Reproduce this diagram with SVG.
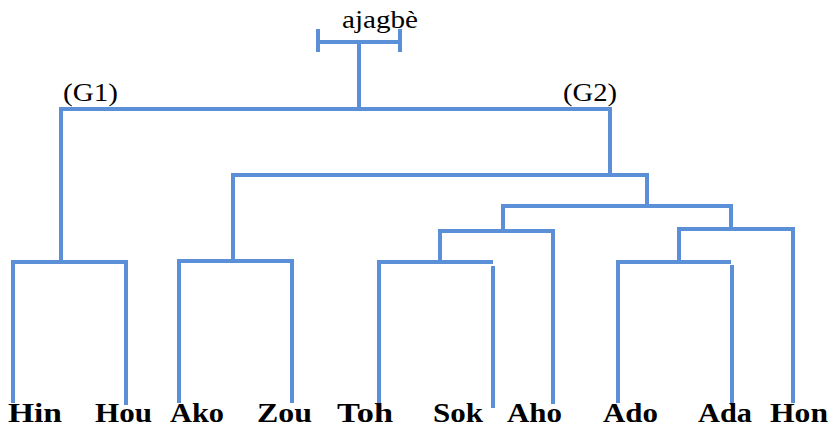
<svg xmlns="http://www.w3.org/2000/svg" width="836" height="430" viewBox="0 0 836 430">
<style>
.c{fill:none;stroke:#5b8fd8;stroke-width:4;stroke-linejoin:miter;stroke-linecap:butt}
.leaf{font-family:"Liberation Serif","Times New Roman",serif;font-weight:bold;font-size:28px;fill:#000}
.lab{font-family:"Liberation Serif","Times New Roman",serif;font-size:26px;fill:#000}
</style>
<rect width="836" height="430" fill="#fff"/>
<g id="connectors">
<polyline class="c" points="318,29 318,52"/>
<polyline class="c" points="400,29 400,52"/>
<polyline class="c" points="318,42 400,42"/>
<polyline class="c" points="359,42 359,109"/>
<polyline class="c" points="61,261 61,109 610,109 610,175"/>
<polyline class="c" points="13,403 13,262 126,262 126,405"/>
<polyline class="c" points="233,261 233,175 647,175 647,206"/>
<polyline class="c" points="179,403 179,261 292,261 292,403"/>
<polyline class="c" points="503,230 503,206 731,206 731,229"/>
<polyline class="c" points="440,261 440,231 553,231 553,404"/>
<polyline class="c" points="379,405 379,262 493,262"/>
<polyline class="c" points="493,266 493,408"/>
<polyline class="c" points="679,261 679,229 793,229 793,403"/>
<polyline class="c" points="618,403 618,262 731,262"/>
<polyline class="c" points="732,265 732,405"/>
</g>
<g id="root"><text class="lab" x="342" y="28" textLength="76" lengthAdjust="spacingAndGlyphs">ajagbè</text></g>
<g id="G1"><text class="lab" x="63" y="101" textLength="55" lengthAdjust="spacingAndGlyphs">(G1)</text></g>
<g id="G2"><text class="lab" x="563" y="101" textLength="54" lengthAdjust="spacingAndGlyphs">(G2)</text></g>
<g id="Hin"><text class="leaf" x="8" y="422" textLength="54" lengthAdjust="spacingAndGlyphs">Hin</text></g>
<g id="Hou"><text class="leaf" x="95" y="422" textLength="57" lengthAdjust="spacingAndGlyphs">Hou</text></g>
<g id="Ako"><text class="leaf" x="170" y="422" textLength="54" lengthAdjust="spacingAndGlyphs">Ako</text></g>
<g id="Zou"><text class="leaf" x="257" y="422" textLength="55" lengthAdjust="spacingAndGlyphs">Zou</text></g>
<g id="Toh"><text class="leaf" x="337" y="422" textLength="56" lengthAdjust="spacingAndGlyphs">Toh</text></g>
<g id="Sok"><text class="leaf" x="433" y="422" textLength="50" lengthAdjust="spacingAndGlyphs">Sok</text></g>
<g id="Aho"><text class="leaf" x="507" y="422" textLength="55" lengthAdjust="spacingAndGlyphs">Aho</text></g>
<g id="Ado"><text class="leaf" x="603" y="422" textLength="55" lengthAdjust="spacingAndGlyphs">Ado</text></g>
<g id="Ada"><text class="leaf" x="698" y="422" textLength="54" lengthAdjust="spacingAndGlyphs">Ada</text></g>
<g id="Hon"><text class="leaf" x="770" y="422" textLength="58" lengthAdjust="spacingAndGlyphs">Hon</text></g>
</svg>
